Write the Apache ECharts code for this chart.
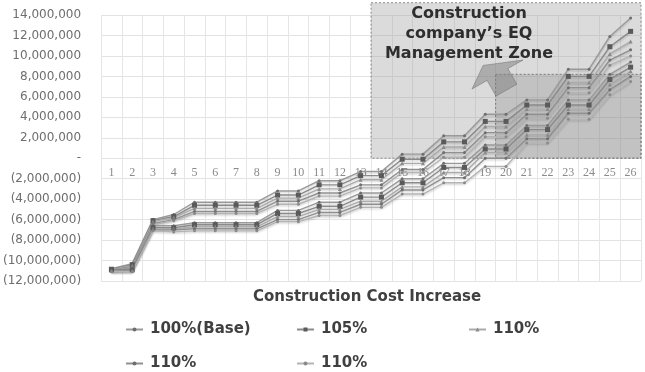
<!DOCTYPE html>
<html>
<head>
<meta charset="utf-8">
<script src="https://cdn.jsdelivr.net/npm/echarts@6/dist/echarts.min.js"></script>
<style>
  html, body { margin: 0; padding: 0; background: #fff; }
  #main-chart { width: 645px; height: 372px; }
</style>
</head>
<body>
<div id="main-chart"></div>
<script>
// values in millions
const categories = ['1','2','3','4','5','6','7','8','9','10','11','12','13','14','15','16','17','18','19','20','21','22','23','24','25','26']

const upper1 = [-10.8, -10.3, -6.0, -5.5, -4.3, -4.3, -4.3, -4.3, -3.2, -3.2, -2.2, -2.2, -1.3, -1.3, 0.4, 0.4, 2.2, 2.2, 4.3, 4.3, 5.7, 5.7, 8.7, 8.7, 11.9, 13.7]
const upper2 = [-10.85, -10.4, -6.1, -5.7, -4.6, -4.6, -4.6, -4.6, -3.6, -3.6, -2.6, -2.6, -1.7, -1.7, -0.1, -0.1, 1.6, 1.6, 3.6, 3.6, 5.2, 5.2, 8.0, 8.0, 10.9, 12.4]
const upper3 = [-10.9, -10.5, -6.2, -5.8, -4.9, -4.9, -4.9, -4.9, -3.9, -3.9, -3.0, -3.0, -2.1, -2.1, -0.5, -0.5, 1.1, 1.1, 3.1, 3.1, 4.8, 4.8, 7.4, 7.4, 10.2, 11.4]
const upper4 = [-10.95, -10.6, -6.4, -6.0, -5.2, -5.2, -5.2, -5.2, -4.2, -4.2, -3.4, -3.4, -2.6, -2.6, -1.1, -1.1, 0.55, 0.55, 2.5, 2.5, 4.3, 4.3, 6.9, 6.9, 9.6, 10.6]
const upper5 = [-11.0, -10.7, -6.5, -6.1, -5.4, -5.4, -5.4, -5.4, -4.5, -4.5, -3.7, -3.7, -2.9, -2.9, -1.4, -1.4, 0.1, 0.1, 2.1, 2.1, 3.9, 3.9, 6.4, 6.4, 9.1, 10.0]
const lower1 = [-10.8, -10.8, -6.6, -6.6, -6.3, -6.3, -6.3, -6.3, -5.1, -5.1, -4.3, -4.3, -3.4, -3.4, -2.0, -2.0, -0.5, -0.5, 1.3, 1.3, 3.2, 3.2, 5.7, 5.7, 8.2, 9.4]
const lower2 = [-10.9, -10.9, -6.8, -6.8, -6.5, -6.5, -6.5, -6.5, -5.4, -5.4, -4.7, -4.7, -3.8, -3.8, -2.4, -2.4, -0.9, -0.9, 0.9, 0.9, 2.8, 2.8, 5.2, 5.2, 7.7, 8.9]
const lower3 = [-11.0, -11.0, -6.9, -6.9, -6.7, -6.7, -6.7, -6.7, -5.7, -5.7, -5.0, -5.0, -4.2, -4.2, -2.8, -2.8, -1.4, -1.4, 0.55, 0.55, 2.3, 2.3, 4.8, 4.8, 7.2, 8.5]
const lower4 = [-11.05, -11.0, -7.0, -7.0, -6.9, -6.9, -6.9, -6.9, -6.0, -6.0, -5.3, -5.3, -4.5, -4.5, -3.1, -3.1, -1.9, -1.9, 0.0, 0.0, 1.9, 1.9, 4.4, 4.4, 6.7, 8.0]
const lower5 = [-11.1, -11.1, -7.1, -7.2, -7.1, -7.1, -7.1, -7.1, -6.2, -6.2, -5.6, -5.6, -4.8, -4.8, -3.5, -3.5, -2.4, -2.4, -0.8, -0.8, 1.5, 1.5, 3.8, 3.8, 6.2, 7.5]

const legendLabels = ['100%(Base)', '105%', '110%', '110%', '110%']
const axisTitle = 'Construction Cost Increase'
const zoneText = 'Construction\ncompany\u2019s EQ\nManagement Zone'

const seriesDefs = [
  { id: 's1', data: upper1, color: '#9a9a9a', mark: '#6e6e6e', symbol: 'circle', size: 3 },
  { id: 's2', data: upper2, color: '#8a8a8a', mark: '#5a5a5a', symbol: 'rect', size: 5 },
  { id: 's3', data: upper3, color: '#ababab', mark: '#8a8a8a', symbol: 'triangle', size: 4 },
  { id: 's4', data: upper4, color: '#909090', mark: '#6e6e6e', symbol: 'circle', size: 3 },
  { id: 's5', data: upper5, color: '#b4b4b4', mark: '#8a8a8a', symbol: 'circle', size: 3 },
  { id: 's6', data: lower1, color: '#9a9a9a', mark: '#6e6e6e', symbol: 'circle', size: 3 },
  { id: 's7', data: lower2, color: '#8a8a8a', mark: '#5a5a5a', symbol: 'rect', size: 5 },
  { id: 's8', data: lower3, color: '#ababab', mark: '#8a8a8a', symbol: 'triangle', size: 4 },
  { id: 's9', data: lower4, color: '#909090', mark: '#6e6e6e', symbol: 'circle', size: 3 },
  { id: 's10', data: lower5, color: '#b4b4b4', mark: '#8a8a8a', symbol: 'circle', size: 3 },
]

const labelById = { s1: legendLabels[0], s2: legendLabels[1], s3: legendLabels[2], s4: legendLabels[3], s5: legendLabels[4] }

function formatMillions(v) {
  if (v === 0) return '-'
  const s = Math.round(Math.abs(v) * 1e6).toLocaleString('en-US')
  return v < 0 ? '(' + s + ')' : s
}

const legendPositions = [
  { left: 120, top: 317 }, { left: 291, top: 317 }, { left: 463, top: 317 },
  { left: 120, top: 351 }, { left: 291, top: 351 },
]

const chart = echarts.init(document.getElementById('main-chart'))

const option = {
  animation: false,
  backgroundColor: '#fff',
  grid: { left: 100, right: 4, top: 15, bottom: 91, containLabel: false },
  legend: legendPositions.map((pos, i) => ({
    left: pos.left, top: pos.top,
    data: ['s' + (i + 1)],
    itemWidth: 17, itemHeight: 5, itemGap: 10,
    formatter: name => labelById[name],
    textStyle: { fontFamily: 'DejaVu Sans', fontWeight: 'bold', fontSize: 15, color: '#404040', padding: [0, 0, 0, 2] },
    selectedMode: false,
  })),
  xAxis: {
    type: 'category',
    data: categories,
    boundaryGap: true,
    axisLine: { onZero: false, show: false },
    axisTick: { show: false },
    axisLabel: { color: '#8a8a8a', fontFamily: 'Liberation Serif', fontSize: 12, margin: 9, interval: 0 },
    splitLine: { show: true, lineStyle: { color: '#e6e6e6' } },
  },
  yAxis: {
    type: 'value',
    min: -12, max: 14, interval: 2,
    axisLine: { show: false },
    axisTick: { show: false },
    axisLabel: { color: '#6e6e6e', fontFamily: 'DejaVu Sans', fontSize: 12, margin: 20, formatter: formatMillions },
    splitLine: { lineStyle: { color: '#e3e3e3' } },
  },
  series: seriesDefs.map(d => ({
    name: d.id,
    type: 'line',
    data: d.data,
    symbol: d.symbol,
    symbolSize: d.size,
    showSymbol: true,
    z: 3,
    itemStyle: { color: d.mark },
    lineStyle: { color: d.color, width: 1.4, shadowColor: 'rgba(0,0,0,0.18)', shadowBlur: 2, shadowOffsetY: 1.5 },
    emphasis: { disabled: true },
  })),
}

chart.setOption(option)

// place the category labels along the zero line and the zones from data coordinates
const px = (i, v) => chart.convertToPixel({ gridIndex: 0 }, [i, v])
const band = px(1, 0)[0] - px(0, 0)[0]
const zeroY = px(0, 0)[1]
const plotBottom = px(0, -12)[1]
const outerLeft = px(13, 0)[0] - band / 2
const innerLeft = px(19, 0)[0] - band / 2
const right = px(25, 0)[0] + band / 2
const outerTop = px(0, 15.2)[1]
const innerTop = px(0, 8.2)[1]

// arrow: head base from A to B, pointing up-left, short shaft going into the inner zone
const A = [472, 89], B = [523, 60]
const M = [(A[0] + B[0]) / 2, (A[1] + B[1]) / 2]
const len = Math.hypot(B[0] - A[0], B[1] - A[1])
const along = [(B[0] - A[0]) / len, (B[1] - A[1]) / len]
const normal = [along[1], -along[0]]
const tip = [M[0] + normal[0] * 15 - along[0] * 8, M[1] + normal[1] * 15 - along[1] * 8]
const s1 = [M[0] - along[0] * 12, M[1] - along[1] * 12]
const s2 = [M[0] + along[0] * 12, M[1] + along[1] * 12]
const s3 = [s2[0] - normal[0] * 18, s2[1] - normal[1] * 18]
const s4 = [s1[0] - normal[0] * 18, s1[1] - normal[1] * 18]

chart.setOption({
  xAxis: { offset: zeroY - plotBottom },
  graphic: [
    {
      type: 'text', left: 253, top: 290, z: 10,
      style: { text: axisTitle, fill: '#404040', font: 'bold 15px "DejaVu Sans"' },
    },
    {
      type: 'rect', z: 1, silent: true,
      shape: { x: outerLeft, y: outerTop, width: right - outerLeft, height: zeroY - outerTop },
      style: { fill: 'rgba(160,160,160,0.38)', stroke: '#8a8a8a', lineWidth: 1, lineDash: [2, 2] },
    },
    {
      type: 'rect', z: 1, silent: true,
      shape: { x: innerLeft, y: innerTop, width: right - innerLeft, height: zeroY - innerTop },
      style: { fill: 'rgba(130,130,130,0.28)', stroke: '#7a7a7a', lineWidth: 1, lineDash: [2, 2] },
    },
    {
      type: 'polygon', z: 2, silent: true,
      shape: { points: [A, tip, B, s2, s3, s4, s1] },
      style: { fill: 'rgba(125,125,125,0.5)', stroke: 'rgba(100,100,100,0.45)', lineWidth: 1 },
    },
    {
      type: 'text', x: 469, y: 4, z: 10, silent: true,
      style: { text: zoneText, fill: '#2e2e2e', font: 'bold 16px "DejaVu Sans"', align: 'center', lineHeight: 20 },
    },
  ],
})
</script>
</body>
</html>
